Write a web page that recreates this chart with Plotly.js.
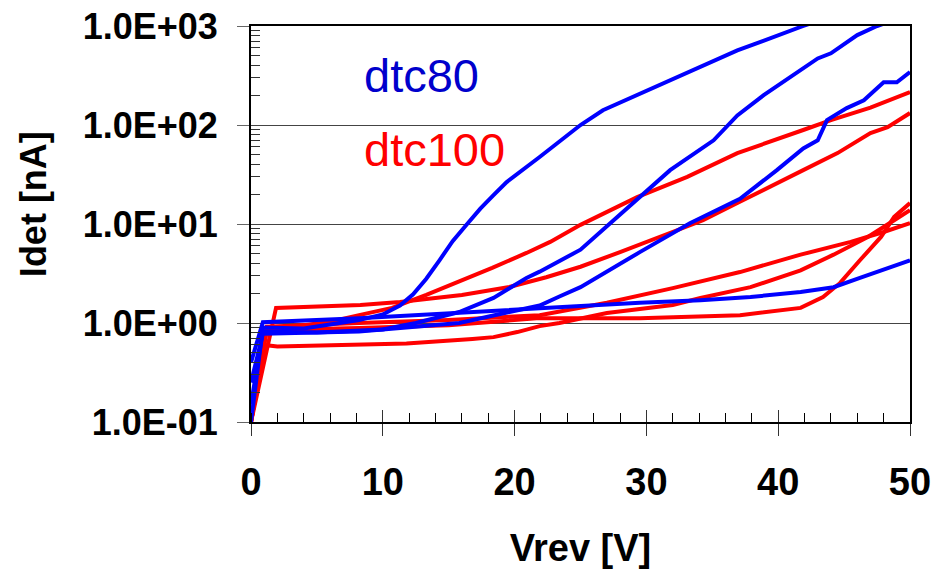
<!DOCTYPE html>
<html>
<head>
<meta charset="utf-8">
<script src="https://cdn.plot.ly/plotly-3.0.1.min.js"></script>
<style>html,body{margin:0;padding:0;background:#fff;}#chart{width:932px;height:569px;}</style>
</head>
<body>
<div id="chart"></div>
<script>
// ---- data (Vrev in V, Idet in nA) ----
var dtc80_1_x = [0, 0.9, 4, 8.2, 10, 11.3, 12.3, 13.3, 14.3, 15.3, 16.4, 17.4, 18.4, 19.4, 21.9, 25, 26.7, 31.8, 36.9, 41.9, 45];
var dtc80_1_y = [0.1, 0.9, 0.88, 1.07, 1.22, 1.5, 1.95, 2.8, 4.3, 6.7, 10, 14.3, 19.6, 26.5, 47.5, 100, 141, 283, 566, 1000, 1400];

var dtc80_2_x = [0, 0.9, 5, 10, 12.5, 15.8, 18.4, 20.9, 21.9, 23.4, 25, 27, 29.3, 31.8, 35.1, 36.9, 38.9, 43, 44, 46, 47.5, 50];
var dtc80_2_y = [0.15, 0.82, 0.8, 0.86, 1.0, 1.29, 1.79, 2.85, 3.3, 4.2, 5.5, 9.5, 17.5, 35, 70, 125, 200, 470, 530, 810, 1000, 1300];

var dtc80_3_x = [0, 0.9, 8.2, 12, 15.8, 19.6, 21.9, 23.4, 25, 29.5, 33.3, 37.1, 39.9, 41.9, 43, 43.7, 45.2, 46.5, 48, 49, 50];
var dtc80_3_y = [0.25, 0.78, 0.82, 0.9, 1.0, 1.29, 1.5, 1.85, 2.3, 5.2, 10.2, 18, 35, 58, 70, 112, 148, 178, 270, 270, 343];

var dtc80_4_x = [0, 0.9, 8.2, 21.9, 29.5, 34.1, 37.9, 41.7, 44.2, 46.2, 48, 50];
var dtc80_4_y = [0.4, 1.02, 1.12, 1.42, 1.6, 1.7, 1.83, 2.06, 2.3, 2.85, 3.5, 4.3];

var dtc100_1_x = [0, 1.2, 4, 6, 8.2, 10.7, 13.3, 15.8, 18.3, 20.9, 22.7, 25, 29.3, 33.1, 36.9, 41.9, 44, 47, 50];
var dtc100_1_y = [0.1, 0.88, 0.95, 1.03, 1.2, 1.42, 1.92, 2.6, 3.6, 5.1, 6.6, 9.8, 18.7, 29.9, 52, 89, 112, 150, 215];

var dtc100_2_x = [0, 1.9, 8.3, 11.3, 16, 19.6, 22.4, 25, 28, 34.3, 36.9, 39.4, 41.9, 44.5, 47, 48.3, 50];
var dtc100_2_y = [0.1, 1.42, 1.52, 1.63, 1.92, 2.31, 2.9, 3.7, 5.2, 10.9, 16.3, 23.6, 35, 52, 83, 95, 132];

var dtc100_3_x = [0, 1.2, 8.2, 15, 21.9, 27, 32, 34.1, 37.1, 41.7, 45.5, 48, 50];
var dtc100_3_y = [0.1, 0.92, 1.0, 1.07, 1.2, 1.6, 2.25, 2.6, 3.27, 4.9, 6.6, 8.3, 10.2];

var dtc100_4_x = [0, 1.0, 2, 8.2, 11.8, 16.8, 18.4, 20.2, 21.9, 23.4, 27, 32, 34.1, 37.9, 41.7, 44.2, 46.8, 48.8, 50];
var dtc100_4_y = [0.1, 0.6, 0.58, 0.6, 0.62, 0.69, 0.72, 0.81, 0.93, 1.0, 1.26, 1.52, 1.79, 2.3, 3.4, 4.9, 7.4, 10.9, 13.8];

var dtc100_5_x = [0, 1.2, 8.2, 15, 21.9, 29.5, 37.1, 41.7, 43.4, 44.7, 46.2, 47.8, 48.8, 50];
var dtc100_5_y = [0.1, 0.85, 0.89, 0.95, 1.12, 1.12, 1.2, 1.42, 1.83, 2.54, 4.3, 7.4, 11.8, 16.3];

var xTickVals = [0, 10, 20, 30, 40, 50];
var xTickText = ["0", "10", "20", "30", "40", "50"];
var yTickVals = [0.1, 1, 10, 100, 1000];
var yTickText = ["1.0E-01", "1.0E+00", "1.0E+01", "1.0E+02", "1.0E+03"];
var labelDtc80 = "dtc80";
var labelDtc100 = "dtc100";

// ---- build ----
var BLUE = '#0000FF', RED = '#FF0000';
function line(x, y, c, name) {
  return {x: x, y: y, type: 'scatter', mode: 'lines', name: name,
          line: {color: c, width: 4}, hoverinfo: 'skip'};
}
var traces = [
  line(dtc100_1_x, dtc100_1_y, RED, labelDtc100),
  line(dtc100_2_x, dtc100_2_y, RED, labelDtc100),
  line(dtc100_3_x, dtc100_3_y, RED, labelDtc100),
  line(dtc100_4_x, dtc100_4_y, RED, labelDtc100),
  line(dtc100_5_x, dtc100_5_y, RED, labelDtc100),
  line(dtc80_1_x, dtc80_1_y, BLUE, labelDtc80),
  line(dtc80_2_x, dtc80_2_y, BLUE, labelDtc80),
  line(dtc80_3_x, dtc80_3_y, BLUE, labelDtc80),
  line(dtc80_4_x, dtc80_4_y, BLUE, labelDtc80)
];
// empty helper trace so the overlay axis (inner half of crossing ticks) is drawn
traces.push({x: [], y: [], xaxis: 'x2', type: 'scatter', mode: 'lines', showlegend: false, hoverinfo: 'skip'});

var yMinor = [];
for (var d = -1; d < 3; d++) { for (var k = 2; k <= 9; k++) { yMinor.push(k * Math.pow(10, d)); } }

var FONT = 'Liberation Sans, Arial, Helvetica, sans-serif';
var layout = {
  width: 932, height: 569,
  margin: {l: 251, r: 22, t: 26, b: 147, pad: 0},
  paper_bgcolor: '#fff', plot_bgcolor: '#fff',
  showlegend: false,
  xaxis: {
    range: [0, 50], tickmode: 'array', tickvals: xTickVals, ticktext: xTickText,
    ticks: 'outside', ticklen: 12, tickwidth: 1, tickcolor: '#333',
    showline: true, linewidth: 2, linecolor: '#000', mirror: true,
    showgrid: false, zeroline: false,
    tickfont: {family: FONT, size: 38, color: '#000', weight: 'bold'},
    ticklabelstandoff: 13,
    minor: {tickmode: 'linear', tick0: 0, dtick: 2, ticks: 'inside', ticklen: 9, tickwidth: 1, tickcolor: '#000', showgrid: false},
    title: {text: 'Vrev [V]', font: {family: FONT, size: 38, color: '#000', weight: 'bold'}, standoff: 34}
  },
  xaxis2: {
    overlaying: 'x', matches: 'x', anchor: 'y', side: 'bottom',
    tickmode: 'array', tickvals: xTickVals, showticklabels: false,
    ticks: 'inside', ticklen: 12, tickwidth: 1, tickcolor: '#333',
    showline: false, showgrid: false, zeroline: false
  },
  yaxis: {
    type: 'log', range: [-1, 3], tickmode: 'array', tickvals: yTickVals, ticktext: yTickText,
    ticks: 'outside', ticklen: 12, tickwidth: 1, tickcolor: '#666',
    showline: true, linewidth: 2, linecolor: '#000', mirror: true,
    showgrid: true, gridcolor: '#444', gridwidth: 1, zeroline: false,
    tickfont: {family: FONT, size: 36, color: '#000', weight: 'bold'},
    ticklabelstandoff: 12,
    minor: {tickmode: 'array', tickvals: yMinor, ticks: 'inside', ticklen: 9, tickwidth: 1, tickcolor: '#333', showgrid: false}
  },
  annotations: [
    {text: 'Idet [nA]', xref: 'paper', yref: 'paper', x: -0.33, y: 0.549, xanchor: 'center', yanchor: 'middle',
     textangle: -90, showarrow: false, font: {family: FONT, size: 36, color: '#000', weight: 'bold'}},
    {text: labelDtc80, xref: 'paper', yref: 'paper', x: 0.168, y: 0.874, xanchor: 'left', yanchor: 'middle',
     showarrow: false, font: {family: FONT, size: 47, color: '#0000CC'}},
    {text: labelDtc100, xref: 'paper', yref: 'paper', x: 0.168, y: 0.687, xanchor: 'left', yanchor: 'middle',
     showarrow: false, font: {family: FONT, size: 47, color: '#FF0000'}}
  ]
};
Plotly.newPlot('chart', traces, layout, {displayModeBar: false, staticPlot: true});
</script>
</body>
</html>
